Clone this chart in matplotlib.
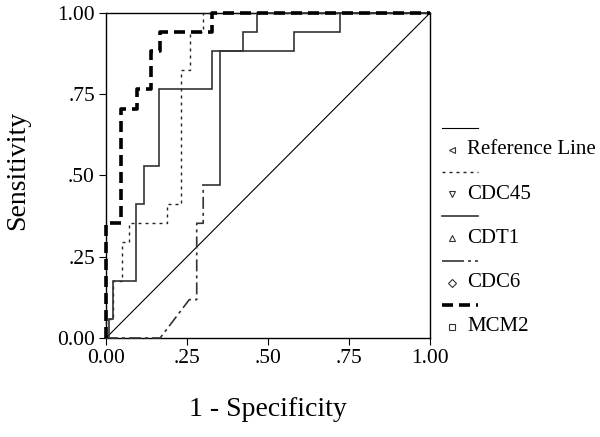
import matplotlib
matplotlib.use('Agg')
import matplotlib.pyplot as plt

# ROC vertices (1 - specificity, sensitivity)
ref_x = [0.0, 1.0]
ref_y = [0.0, 1.0]

cdc45_x = [0.0, 0.0, 0.022, 0.022, 0.048, 0.048, 0.071, 0.071, 0.187, 0.187,
           0.233, 0.233, 0.259, 0.259, 0.300, 0.300, 1.0]
cdc45_y = [0.0, 0.059, 0.059, 0.176, 0.176, 0.294, 0.294, 0.353, 0.353, 0.412,
           0.412, 0.824, 0.824, 0.941, 0.941, 1.0, 1.0]

cdt1_x = [0.0, 0.008, 0.008, 0.022, 0.022, 0.093, 0.093, 0.118, 0.118, 0.165,
          0.165, 0.326, 0.326, 0.423, 0.423, 0.465, 0.465, 1.0]
cdt1_y = [0.0, 0.0, 0.059, 0.059, 0.176, 0.176, 0.412, 0.412, 0.529, 0.529,
          0.765, 0.765, 0.882, 0.882, 0.941, 0.941, 1.0, 1.0]

cdc6_x = [0.0, 0.167, 0.257, 0.280, 0.280, 0.300, 0.300, 0.352, 0.352, 0.580,
          0.580, 0.722, 0.722, 1.0]
cdc6_y = [0.0, 0.0, 0.118, 0.118, 0.353, 0.353, 0.471, 0.471, 0.882, 0.882,
          0.941, 0.941, 1.0, 1.0]

mcm2_x = [0.0, 0.0, 0.045, 0.045, 0.095, 0.095, 0.140, 0.140, 0.167, 0.167,
          0.326, 0.326, 1.0]
mcm2_y = [0.0, 0.353, 0.353, 0.706, 0.706, 0.765, 0.765, 0.882, 0.882, 0.941,
          0.941, 1.0, 1.0]

tick_vals = [0.0, 0.25, 0.5, 0.75, 1.0]
tick_labels = ['0.00', '.25', '.50', '.75', '1.00']
legend_names = ['Reference Line', 'CDC45', 'CDT1', 'CDC6', 'MCM2']

plt.rcParams['font.family'] = ['Liberation Serif', 'DejaVu Serif']
plt.rcParams['lines.scale_dashes'] = False

px = 0.72  # points per pixel at dpi 100
dashdot = (0, (22 * px, 4 * px, 3 * px, 4 * px))
styles = [
    dict(color='black', lw=0.8, ls='-'),
    dict(color='#222222', lw=1.0, ls=(0, (3 * px, 4 * px))),
    dict(color='#333333', lw=1.2, ls='-'),
    dict(color='#333333', lw=1.2, ls=dashdot),
    dict(color='black', lw=2.6, ls=(0, (11 * px, 6 * px))),
]
markers = ['<', 'v', '^', 'D', 's']

fig = plt.figure(figsize=(6, 4.37), dpi=100)
ax = fig.add_axes([106 / 600, 1 - 338 / 437, 324 / 600, 325 / 437])

kw = dict(clip_on=False, solid_joinstyle='miter')
ax.plot(ref_x, ref_y, color='black', lw=0.8, zorder=2, **kw)
ax.plot(cdc45_x, cdc45_y, color='#222222', lw=1.0, linestyle=styles[1]['ls'], zorder=3, **kw)
ax.plot(cdt1_x, cdt1_y, color='#333333', lw=1.2, zorder=4, **kw)
# CDC6: the pattern only shows on the lower steps, the upper steps look solid
k = 6
ax.plot(cdc6_x[:k + 1], cdc6_y[:k + 1], color='#333333', lw=1.2,
        linestyle=(0, (12 * px, 4 * px, 3 * px, 4 * px)), zorder=5, **kw)
ax.plot(cdc6_x[k:], cdc6_y[k:], color='#333333', lw=1.2, zorder=5, **kw)
ax.plot(mcm2_x, mcm2_y, color='black', lw=2.6, linestyle=styles[4]['ls'], zorder=6, **kw)

ax.set_xlim(0, 1)
ax.set_ylim(0, 1)
ax.set_xticks(tick_vals)
ax.set_xticklabels(tick_labels)
ax.set_yticks(tick_vals)
ax.set_yticklabels(tick_labels)
ax.tick_params(direction='out', length=5, width=0.8, labelsize=15.5, pad=3)
for sp in ax.spines.values():
    sp.set_linewidth(1.0)
    sp.set_color('black')

fig.text(268 / 600, 1 - 410 / 437, '1 - Specificity', ha='center', va='center', fontsize=20)
fig.text(18 / 600, 1 - 170 / 437, 'Sensitivity', ha='center', va='center',
         rotation=90, fontsize=20)

# hand-made legend: line sample above, marker + name below
lax = fig.add_axes([0, 0, 1, 1])
lax.set_xlim(0, 600)
lax.set_ylim(437, 0)
lax.axis('off')
for i, (name, st, mk) in enumerate(zip(legend_names, styles, markers)):
    yl = 128 + i * 44.2
    yt = yl + 22
    lax.plot([442, 478], [yl, yl], color=st['color'], lw=st['lw'], linestyle=st['ls'])
    lax.plot([452], [yt], marker=mk, ms=4, mfc='white', mec='#333333', mew=0.8)
    lax.text(467, yt, name, ha='left', va='center', fontsize=15)

fig.savefig('out.png', dpi=100)
